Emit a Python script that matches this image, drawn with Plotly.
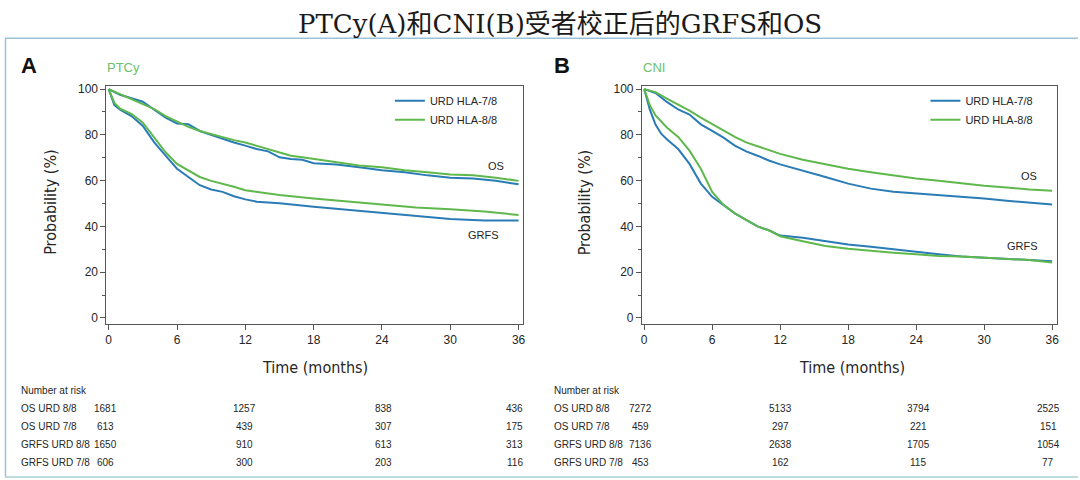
import plotly.graph_objects as go

W, H = 1080, 480

# ---------------- data ----------------
# Panel A (PTCy)
a_os_t = [0, 1, 2, 3, 4, 5, 6, 7, 8, 9, 10, 11, 12, 13, 14, 15, 16, 17, 18, 20, 22, 24, 26, 28, 30, 32, 34, 36]
a_os_78 = [100, 97.5, 96, 94.5, 91, 87.5, 85, 84.6, 81.7, 80, 78.1, 76.7, 75.3, 73.8, 72.8, 70.2, 69.5, 69.1, 67.6, 67, 65.9, 64.5, 63.7, 62.3, 61.3, 60.9, 59.9, 58.4]
a_os_88 = [100, 97.8, 95.5, 93.5, 91.3, 88.2, 85.8, 83.5, 81.7, 80.3, 78.8, 77.7, 76.7, 75.3, 73.8, 72.4, 70.9, 70.2, 69.5, 68, 66.6, 65.9, 64.5, 63.7, 62.7, 62.3, 61.3, 59.9]
a_grfs_t = [0, 0.5, 1, 2, 3, 4, 5, 6, 7, 8, 9, 10, 11, 12, 13, 15, 18, 21, 24, 27, 30, 33, 36]
a_grfs_78 = [100, 93, 91, 88.2, 83.9, 76.7, 70.9, 65.2, 61.6, 58, 56.1, 55.1, 53.2, 51.8, 50.8, 50.1, 48.6, 47.2, 45.7, 44.3, 43.2, 42.6, 42.6]
a_grfs_88 = [100, 94, 91.5, 89.2, 85.3, 78.8, 72.4, 67.3, 64.5, 61.6, 59.9, 58.7, 57.3, 55.8, 55.1, 53.7, 52.2, 50.8, 49.4, 48.3, 47.5, 46.5, 45]

# Panel B (CNI)
b_os_t = [0, 1, 2, 3, 4, 5, 6, 7, 8, 9, 10, 11, 12, 14, 16, 18, 20, 22, 24, 26, 28, 30, 32, 34, 36]
b_os_78 = [100, 98.3, 94.4, 91.1, 88.9, 84.6, 81.7, 78.8, 75.3, 72.8, 70.9, 68.8, 67.1, 64.5, 61.6, 58.7, 56.5, 55.1, 54.4, 53.7, 53.2, 52.2, 51.2, 50.4, 49.6]
b_os_88 = [100, 98.7, 95.8, 93.2, 90.6, 87.5, 84.6, 81.7, 79.1, 76.7, 75, 73.4, 71.7, 69.1, 67.1, 65.2, 63.7, 62.3, 60.9, 59.9, 58.7, 57.8, 57, 56.1, 55.6]
b_grfs_t = [0, 0.5, 1, 1.5, 2, 3, 4, 5, 6, 7, 8, 9, 10, 11, 12, 14, 16, 18, 20, 22, 24, 26, 28, 30, 32, 34, 36]
b_grfs_78 = [100, 91, 84.5, 80.5, 78.1, 73.8, 67.3, 58.7, 52.9, 49.4, 45.7, 42.9, 40, 38.3, 36, 35, 33.5, 32.1, 31.1, 29.9, 28.8, 27.8, 26.8, 26.3, 25.9, 25.6, 24.8]
b_grfs_88 = [100, 93, 88.5, 85.8, 83.2, 79.1, 73.1, 65.2, 55.1, 49.4, 45.7, 42.9, 40, 38.3, 35.7, 33.5, 31.4, 30.2, 29.2, 28.5, 27.8, 27.1, 26.8, 26.3, 25.9, 25.3, 24.2]

# Number at risk
risk_rows = ["OS URD 8/8", "OS URD 7/8", "GRFS URD 8/8", "GRFS URD 7/8"]
a_risk_os88 = [1681, 1257, 838, 436]
a_risk_os78 = [613, 439, 307, 175]
a_risk_grfs88 = [1650, 910, 613, 313]
a_risk_grfs78 = [606, 300, 203, 116]
b_risk_os88 = [7272, 5133, 3794, 2525]
b_risk_os78 = [459, 297, 221, 151]
b_risk_grfs88 = [7136, 2638, 1705, 1054]
b_risk_grfs78 = [453, 162, 115, 77]

x_ticks = [0, 6, 12, 18, 24, 30, 36]
y_ticks = [0, 20, 40, 60, 80, 100]

title_text = "PTCy(A)和CNI(B)受者校正后的GRFS和OS"
name_78 = "URD HLA-7/8"
name_88 = "URD HLA-8/8"

# ---------------- styling ----------------
BLUE = "#2a7cb6"
GREEN = "#5fb84c"
TXT = "#262626"
FONT = "Liberation Sans, Arimo, Arial, sans-serif"
NARROW = "Liberation Sans Narrow, Arial Narrow, DejaVu Sans Condensed, Liberation Sans, sans-serif"


def px(x):
    return x / W


def py(y):
    return 1 - y / H


fig = go.Figure()


def add_panel(xa, ya, leg, os_t, os78, os88, gr_t, gr78, gr88):
    fig.add_trace(go.Scatter(x=os_t, y=os78, mode="lines", name=name_78, legendgroup=xa + "b",
                             line=dict(color=BLUE, width=2), xaxis=xa, yaxis=ya, legend=leg))
    fig.add_trace(go.Scatter(x=os_t, y=os88, mode="lines", name=name_88, legendgroup=xa + "g",
                             line=dict(color=GREEN, width=2), xaxis=xa, yaxis=ya, legend=leg))
    fig.add_trace(go.Scatter(x=gr_t, y=gr78, mode="lines", name=name_78, legendgroup=xa + "b",
                             showlegend=False, line=dict(color=BLUE, width=2), xaxis=xa, yaxis=ya, legend=leg))
    fig.add_trace(go.Scatter(x=gr_t, y=gr88, mode="lines", name=name_88, legendgroup=xa + "g",
                             showlegend=False, line=dict(color=GREEN, width=2), xaxis=xa, yaxis=ya, legend=leg))


add_panel("x", "y", "legend", a_os_t, a_os_78, a_os_88, a_grfs_t, a_grfs_78, a_grfs_88)
add_panel("x2", "y2", "legend2", b_os_t, b_os_78, b_os_88, b_grfs_t, b_grfs_78, b_grfs_88)

axis_common = dict(showline=True, linecolor="#555555", linewidth=1, mirror=True, showgrid=False,
                   zeroline=False, ticks="outside", ticklen=5, tickcolor="#555555",
                   tickfont=dict(family=FONT, size=12, color=TXT), fixedrange=True)

ydom = [py(323), py(83)]
fig.update_layout(
    xaxis=dict(domain=[px(105.7), px(523.6)], range=[-0.2, 36.4], tickvals=x_ticks, anchor="y", **axis_common),
    yaxis=dict(domain=ydom, range=[-2.5, 101.3], tickvals=y_ticks, anchor="x",
               minor=dict(ticks="outside", ticklen=3, dtick=10, tick0=0, tickcolor="#555555"), **axis_common),
    xaxis2=dict(domain=[px(642.7), px(1058.6)], range=[-0.2, 36.4], tickvals=x_ticks, anchor="y2", **axis_common),
    yaxis2=dict(domain=ydom, range=[-2.5, 101.3], tickvals=y_ticks, anchor="x2",
                minor=dict(ticks="outside", ticklen=3, dtick=10, tick0=0, tickcolor="#555555"), **axis_common),
)

legend_common = dict(xanchor="left", yanchor="top", bgcolor="rgba(0,0,0,0)", borderwidth=0,
                     font=dict(family=FONT, size=11, color=TXT), itemwidth=30, tracegroupgap=0)
fig.update_layout(
    legend=dict(x=px(390), y=py(83), **legend_common),
    legend2=dict(x=px(927), y=py(83), **legend_common),
)

ann = []


def text(x, y, s, size=11, color=TXT, family=FONT, xanchor="center", angle=0, bold=False):
    if bold:
        s = "<b>" + s + "</b>"
    ann.append(dict(x=px(x), y=py(y), xref="paper", yref="paper", text=s, showarrow=False,
                    xanchor=xanchor, yanchor="middle", textangle=angle,
                    font=dict(family=family, size=size, color=color)))


# title
text(561, 20, title_text, size=26, color="#1a1a1a",
     family="DejaVu Serif, Noto Sans CJK SC, serif")
# panel letters and subtitles
text(28, 62, "A", size=22, color="#111111", bold=True)
text(563, 62, "B", size=22, color="#111111", bold=True)
text(123, 64, "PTCy", size=13, color="#6cc06a")
text(655, 64, "CNI", size=13, color="#6cc06a")
# axis titles
for xc in (50, 586):
    text(xc, 200, "Probability (%)", size=16, family=NARROW, angle=-90)
for xc in (315, 853):
    text(xc, 367, "Time (months)", size=16, family=NARROW)
# curve labels
text(496, 164, "OS", size=11)
text(484, 233, "GRFS", size=11)
text(1031, 174, "OS", size=11)
text(1024, 245, "GRFS", size=11)

# number at risk tables
row_y = [409, 427, 445, 463]
a_cols = [105, 244, 384, 515]
b_cols = [641, 782, 920, 1050]
a_vals = [a_risk_os88, a_risk_os78, a_risk_grfs88, a_risk_grfs78]
b_vals = [b_risk_os88, b_risk_os78, b_risk_grfs88, b_risk_grfs78]
for x0, cols, vals in ((18, a_cols, a_vals), (553, b_cols, b_vals)):
    text(x0, 391, "Number at risk", size=10, xanchor="left")
    for r, lab in enumerate(risk_rows):
        text(x0, row_y[r], lab, size=10, xanchor="left")
        for c, v in enumerate(vals[r]):
            text(cols[c], row_y[r], str(v), size=10)

fig.update_layout(annotations=ann)

# frame lines around the figure body
shapes = [
    dict(type="line", xref="paper", yref="paper", x0=px(4), x1=1, y0=py(34.5), y1=py(34.5),
         line=dict(color="#9cc2d7", width=1.5)),
    dict(type="line", xref="paper", yref="paper", x0=px(4.5), x1=px(4.5), y0=py(34.5), y1=py(478),
         line=dict(color="#9cc2d7", width=1.5)),
    dict(type="line", xref="paper", yref="paper", x0=px(4), x1=1, y0=py(478), y1=py(478),
         line=dict(color="#a6d2d0", width=1.5)),
]
fig.update_layout(shapes=shapes)

fig.update_layout(width=W, height=H, margin=dict(l=0, r=0, t=0, b=0),
                  paper_bgcolor="white", plot_bgcolor="white", showlegend=True)

fig.write_html("out.html", config={"displayModeBar": False},
               post_script="document.body.style.margin='0px';document.body.style.overflow='hidden';")
